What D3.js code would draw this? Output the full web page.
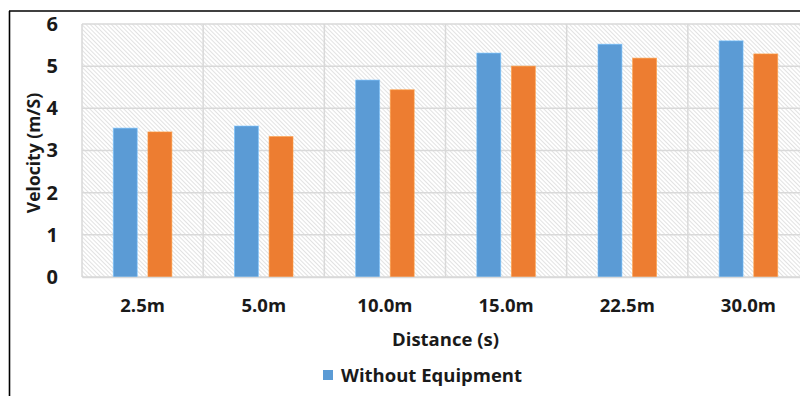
<!DOCTYPE html>
<html>
<head>
<meta charset="utf-8">
<script src="https://cdn.jsdelivr.net/npm/d3@7"></script>
<style>
  html, body { margin: 0; padding: 0; background: #fff; }
  svg { display: block; }
  text { font-family: "Open Sans", "Lato", sans-serif; font-weight: bold; fill: #1a1a1a; }
</style>
</head>
<body>
<svg id="chart" width="800" height="396"></svg>
<script>
// Velocity per distance mark
const categories = ["2.5m", "5.0m", "10.0m", "15.0m", "22.5m", "30.0m"];
const withoutEquipment = [3.53, 3.58, 4.67, 5.31, 5.52, 5.60];
const withEquipment = [3.44, 3.33, 4.44, 5.00, 5.19, 5.29];
const yTicks = [0, 1, 2, 3, 4, 5, 6];
const seriesNames = ["Without Equipment", "With Equipment"];
const seriesColors = ["#5b9bd5", "#ed7d31"];

const svg = d3.select("#chart");
const plot = { left: 82, top: 24, right: 809, bottom: 277 };

// outer chart frame
svg.append("line").attr("x1", 9).attr("x2", 800).attr("y1", 11).attr("y2", 11)
  .attr("stroke", "#000").attr("stroke-width", 1.6);
svg.append("line").attr("x1", 9.5).attr("x2", 9.5).attr("y1", 11).attr("y2", 396)
  .attr("stroke", "#000").attr("stroke-width", 1.6);

// diagonal hatch fill for the plot area
const defs = svg.append("defs");
const pat = defs.append("pattern").attr("id", "hatch")
  .attr("patternUnits", "userSpaceOnUse").attr("width", 3).attr("height", 3)
  .attr("patternTransform", "rotate(45)");
pat.append("rect").attr("width", 3).attr("height", 3).attr("fill", "#ffffff");
pat.append("line").attr("x1", 0).attr("x2", 3).attr("y1", 1.5).attr("y2", 1.5)
  .attr("stroke", "#e2e2e2").attr("stroke-width", 1);

const x0 = d3.scaleBand().domain(categories).range([plot.left, plot.right]).paddingInner(0).paddingOuter(0);
const groupW = 58.5;
const x1 = d3.scaleBand().domain(seriesNames).range([0, groupW]).paddingInner(0.31);
const y = d3.scaleLinear().domain([0, 6]).range([plot.bottom, plot.top]);

svg.append("rect").attr("x", plot.left).attr("y", plot.top)
  .attr("width", plot.right - plot.left).attr("height", plot.bottom - plot.top)
  .attr("fill", "url(#hatch)");

// horizontal gridlines
svg.append("g").selectAll("line").data(yTicks).join("line")
  .attr("x1", plot.left).attr("x2", plot.right)
  .attr("y1", d => y(d)).attr("y2", d => y(d))
  .attr("stroke", "#d9d9d9").attr("stroke-width", 1.5);

// vertical category separators
svg.append("g").selectAll("line").data(categories).join("line")
  .attr("x1", d => x0(d)).attr("x2", d => x0(d))
  .attr("y1", plot.top).attr("y2", plot.bottom)
  .attr("stroke", "#d9d9d9").attr("stroke-width", 1.5);

// bars
const rows = categories.map((c, i) => ({ cat: c, vals: [withoutEquipment[i], withEquipment[i]] }));
const groups = svg.append("g").selectAll("g").data(rows).join("g")
  .attr("transform", d => `translate(${x0(d.cat) + (x0.bandwidth() - groupW) / 2},0)`);
groups.selectAll("rect").data(d => d.vals.map((v, j) => ({ v, name: seriesNames[j], color: seriesColors[j] })))
  .join("rect")
  .attr("x", d => x1(d.name))
  .attr("width", x1.bandwidth())
  .attr("y", d => y(d.v))
  .attr("height", d => y(0) - y(d.v))
  .attr("fill", d => d.color)
  .attr("stroke", d => d3.color(d.color).brighter(0.6))
  .attr("stroke-opacity", 0.6)
  .attr("stroke-width", 1);

// y axis
const yAxis = svg.append("g").attr("transform", `translate(${plot.left},0)`)
  .call(d3.axisLeft(y).tickValues(yTicks).tickFormat(d3.format("d")).tickSize(0).tickPadding(24));
yAxis.select(".domain").remove();
yAxis.selectAll("text").style("font-size", "20px").attr("fill", "#1a1a1a");

// x axis
const xAxis = svg.append("g").attr("transform", `translate(0,${plot.bottom})`)
  .call(d3.axisBottom(x0).tickSize(0).tickPadding(22));
xAxis.select(".domain").attr("stroke", "#d9d9d9").attr("stroke-width", 1.5);
xAxis.selectAll("text").style("font-size", "18.5px").attr("fill", "#1a1a1a");

// axis titles
svg.append("text").attr("transform", "translate(40,153) rotate(-90)")
  .attr("text-anchor", "middle").style("font-size", "17.5px").text("Velocity (m/S)");
svg.append("text").attr("x", (plot.left + plot.right) / 2).attr("y", 346)
  .attr("text-anchor", "middle").style("font-size", "18.5px").text("Distance (s)");

// legend
const legend = svg.append("g").attr("transform", "translate(323,370)");
legend.append("rect").attr("width", 10).attr("height", 10).attr("fill", seriesColors[0]);
legend.append("text").attr("x", 18).attr("y", 12).style("font-size", "18.5px").text(seriesNames[0]);
</script>
</body>
</html>
